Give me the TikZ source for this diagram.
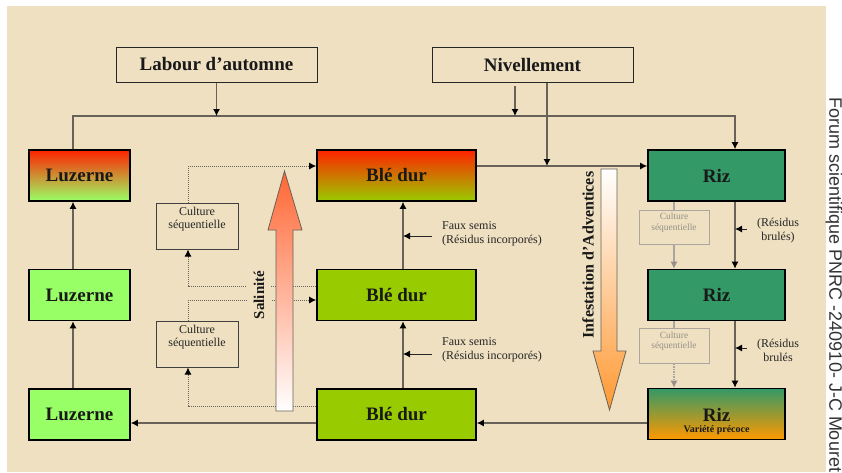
\documentclass[tikz,border=0pt]{standalone}
\usepackage{fontspec}
\setmainfont{Liberation Serif}
\newfontfamily\credfont{Liberation Sans}
\usetikzlibrary{arrows.meta,calc}
\definecolor{bg}{RGB}{238,224,193}
\definecolor{lncol}{RGB}{105,98,88}
\definecolor{dotcol}{RGB}{110,104,96}
\definecolor{redtop}{RGB}{255,34,0}
\definecolor{luzgreen}{RGB}{153,255,102}
\definecolor{blegreen}{RGB}{153,204,0}
\definecolor{rizgreen}{RGB}{51,153,102}
\definecolor{rizorange}{RGB}{255,153,0}
\definecolor{salred}{RGB}{255,102,51}
\definecolor{advorange}{RGB}{255,153,51}
\definecolor{greytext}{RGB}{150,144,136}
\begin{document}
\begin{tikzpicture}[x=1pt,y=-1pt,
  cropbox/.style={draw=black, line width=1.6pt, minimum height=51pt, inner sep=0pt,
    font=\fontsize{19}{20}\selectfont\bfseries, text=black!90},
  luzbox/.style={cropbox, minimum width=101pt},
  blebox/.style={cropbox, minimum width=159pt},
  rizbox/.style={cropbox, minimum width=137pt, fill=rizgreen},
  opbox/.style={draw=black!85, line width=1pt, minimum width=201pt, minimum height=35pt,
    font=\fontsize{19}{20}\selectfont\bfseries, text=black!90},
  csbox/.style={draw=black!75, line width=1pt, minimum width=82pt, minimum height=46pt, inner sep=0pt},
  cstext/.style={font=\fontsize{12}{13}\selectfont, align=center, text=black!85, inner sep=0pt},
  gcsbox/.style={draw=greytext!80, line width=1pt, minimum width=70pt, minimum height=35pt, inner sep=0pt},
  gcstext/.style={font=\fontsize{9.5}{10.5}\selectfont, align=center, text=greytext, inner sep=0pt},
  note/.style={font=\fontsize{12}{14}\selectfont, text=black!85, inner sep=0pt},
  ln/.style={draw=lncol, line width=1.2pt},
  arr/.style={-{Latex[length=7pt,width=7pt,color=black]}},
  dot/.style={draw=dotcol, line width=1pt, dash pattern=on 1pt off 1pt},
  gl/.style={draw=greytext!80, line width=1.2pt},
  gdot/.style={draw=greytext!80, line width=1.2pt, dash pattern=on 1.5pt off 1pt},
  garr/.style={-{Latex[length=7pt,width=7pt,color=greytext]}},
  blk/.style={draw=black!85, line width=1pt, -{Latex[length=7pt,width=7pt,color=black]}}
]
\useasboundingbox (0,0) rectangle (842,472);
\fill[white] (0,0) rectangle (842,472);
\fill[bg] (7,6) rectangle (826,472);

% operations
\node[opbox] (lab) at (216.5,64.5) {Labour d’automne};
\node[opbox] (niv) at (532.5,64.5) {Nivellement};

% crops
\node[luzbox, top color=redtop, bottom color=luzgreen] (luz1) at (79.5,175.5) {Luzerne};
\node[luzbox, fill=luzgreen] (luz2) at (79.5,295) {Luzerne};
\node[luzbox, fill=luzgreen] (luz3) at (79.5,414.5) {Luzerne};
\node[blebox, top color=redtop, bottom color=blegreen] (ble1) at (396.5,175.5) {Blé dur};
\node[blebox, fill=blegreen] (ble2) at (396.5,295) {Blé dur};
\node[blebox, fill=blegreen] (ble3) at (396.5,414.5) {Blé dur};
\node[rizbox] (riz1) at (716.5,175.5) {Riz};
\node[rizbox] (riz2) at (716.5,295) {Riz};
\node[cropbox, minimum width=137pt, top color=rizgreen, bottom color=rizorange] (riz3) at (716.5,414) {};
\node[font=\fontsize{19}{20}\selectfont\bfseries, text=black!90, inner sep=0pt] (riz3t) at ([yshift=-0.5pt]riz3.center) {Riz};
\node[font=\fontsize{10}{11}\selectfont\bfseries, text=black!90, inner sep=0pt] (riz3v) at ([yshift=-16pt]riz3.center) {Variété précoce};

% culture sequentielle boxes
\node[csbox] (cs1) at (197,226) {};
\node[cstext] (cs1t) at ([yshift=7pt]cs1.center) {Culture\\séquentielle};
\node[csbox] (cs2) at (197,344) {};
\node[cstext] (cs2t) at ([yshift=7pt]cs2.center) {Culture\\séquentielle};
\node[gcsbox, minimum height=34pt] (gcs1) at (674,227) {};
\node[gcstext] (gcs1t) at ([yshift=4.5pt]gcs1.center) {Culture\\séquentielle};
\node[gcsbox] (gcs2) at (674,345.5) {};
\node[gcstext] (gcs2t) at ([yshift=4.5pt]gcs2.center) {Culture\\séquentielle};

% main connectors
\coordinate (topy) at (0,116);
\coordinate (L1t) at ([xshift=-6.5pt]luz1.north);
\coordinate (R1t) at ([xshift=18.5pt]riz1.north);
\draw[ln,arr] (L1t) -- (L1t |- topy) -| (R1t);
\draw[ln,arr] (lab.south) -- (lab.south |- topy);
\coordinate (N1) at ([xshift=-17.5pt,yshift=-3pt]niv.south);
\draw[ln,arr] (N1) -- (N1 |- topy);
\coordinate (B1r) at ([yshift=9.5pt]ble1.east);
\coordinate (R1l) at ([yshift=9.5pt]riz1.west);
\draw[ln,arr] (B1r) -- (R1l);
\coordinate (N2) at ([xshift=14.5pt]niv.south);
\draw[ln,arr] (N2) -- (N2 |- B1r);

\draw[ln,arr] ([xshift=-6.5pt]luz2.north) -- ([xshift=-6.5pt]luz1.south);
\draw[ln,arr] ([xshift=-6.5pt]luz3.north) -- ([xshift=-6.5pt]luz2.south);
\draw[ln,arr] ([xshift=6.5pt]ble2.north) -- ([xshift=6.5pt]ble1.south);
\draw[ln,arr] ([xshift=6.5pt]ble3.north) -- ([xshift=6.5pt]ble2.south);
\draw[ln,arr] ([xshift=18.5pt]riz1.south) -- ([xshift=18.5pt]riz2.north);
\draw[ln,arr] ([xshift=18.5pt]riz2.south) -- ([xshift=18.5pt]riz3.north);
\draw[ln,arr] ([yshift=-9pt]riz3.west) -- ([yshift=-8.5pt]ble3.east);
\draw[ln,arr] ([yshift=-8.5pt]ble3.west) -- ([yshift=-8.5pt]luz3.east);

% dotted sequential links
\coordinate (c1t) at ([xshift=-9pt]cs1.north);
\coordinate (c1b) at ([xshift=-9pt]cs1.south);
\coordinate (c2t) at ([xshift=-9pt]cs2.north);
\coordinate (c2b) at ([xshift=-9pt]cs2.south);
\draw[dot,arr] (c1t) |- ([yshift=9.5pt]ble1.west);
\draw[dot,arr] ([yshift=9pt]ble2.west) -| (c1b);
\draw[dot,arr] (c2t) |- ([yshift=-5pt]ble2.west);
\draw[dot,arr] ([yshift=8.5pt]ble3.west) -| (c2b);

% grey sequential links (rice)
\coordinate (g1) at ([xshift=-42.5pt]riz1.south);
\coordinate (g2) at ([xshift=-42.5pt]riz2.south);
\draw[gl] (g1) -- (gcs1.north);
\draw[gl,garr] (gcs1.south) -- (gcs1.south |- riz2.north);
\draw[gl] (g2) -- (gcs2.north);
\draw[gdot,garr] (gcs2.south) -- (gcs2.south |- riz3.north);

% faux semis
\node[note, anchor=west, align=left] (fs1) at (442,234) {Faux semis\\(Résidus incorporés)};
\node[note, anchor=west, align=left] (fs2) at (442,350) {Faux semis\\(Résidus incorporés)};
\coordinate (b1b) at ([xshift=6.5pt]ble1.south);
\draw[blk] ([xshift=-10pt,yshift=-2pt]fs1.west) -- ([yshift=-2pt]fs1.west -| b1b);
\draw[blk] ([xshift=-10pt,yshift=-4pt]fs2.west) -- ([yshift=-4pt]fs2.west -| b1b);

% residus brules
\node[note, align=center] (rb1) at (778,231) {(Résidus\\brulés)};
\node[note, align=center] (rb2) at (778,350) {(Résidus\\brulés};
\coordinate (r1b) at ([xshift=18.5pt]riz1.south);
\draw[blk] ([xshift=-10pt,yshift=2pt]rb1.west) -- ([yshift=2pt]rb1.west -| r1b);
\draw[blk] ([xshift=-10pt,yshift=2pt]rb2.west) -- ([yshift=2pt]rb2.west -| r1b);

% big arrows
\shade[top color=salred, bottom color=white, draw=lncol, line width=0.8pt]
  (276,411) -- (276,230) -- (268,230) -- (284.5,171) -- (302,230) -- (293,230) -- (293,411) -- cycle;
\shade[top color=white, bottom color=advorange, draw=lncol, line width=0.8pt]
  (601,169) -- (617,169) -- (617,351) -- (626,351) -- (609.5,410) -- (593,351) -- (601,351) -- cycle;

\node[rotate=90, font=\fontsize{15}{15}\selectfont\bfseries, fill=bg, inner xsep=1pt, inner ysep=7pt, text=black!90] (sal) at (259,295) {Salinité};
\node[rotate=90, font=\fontsize{16}{16}\selectfont\bfseries, inner sep=0pt, text=black!90] (adv) at (588,255) {Infestation d'Adventices};

% credit
\node[rotate=-90, font=\credfont\fontsize{18}{18}\selectfont, inner sep=0pt, text=black!80] (cred) at (834,285) {Forum scientifique PNRC -240910- J-C Mouret};
\end{tikzpicture}
\end{document}
